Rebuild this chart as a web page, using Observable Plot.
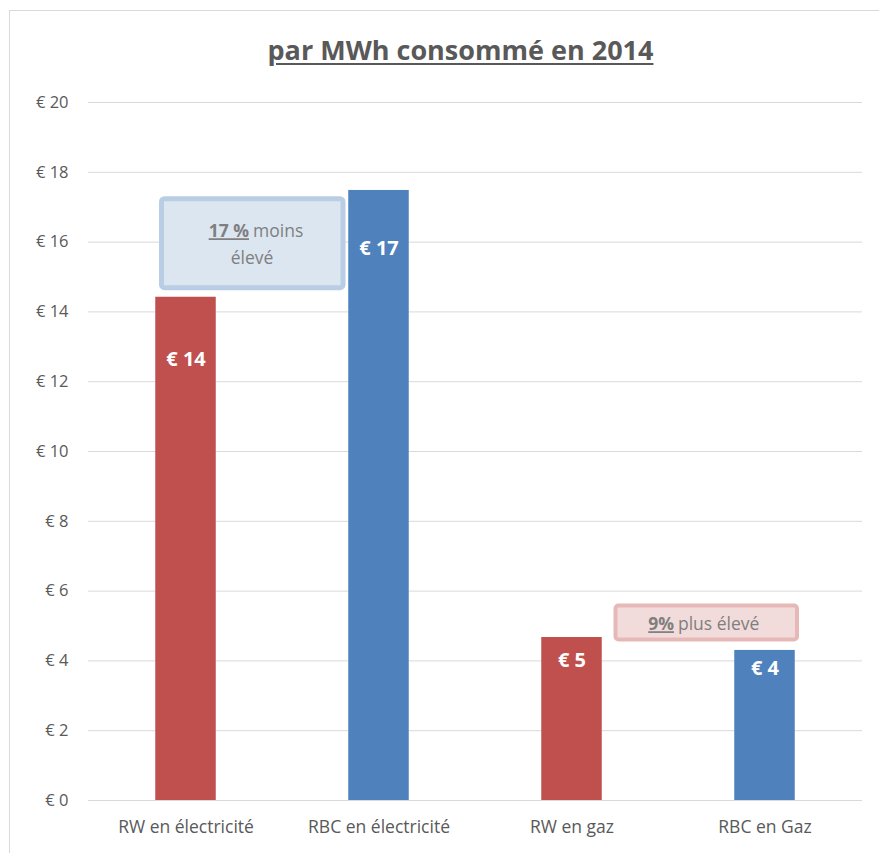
<!DOCTYPE html>
<html><head><meta charset="utf-8">
<script src="https://cdn.jsdelivr.net/npm/d3@7"></script>
<script src="https://cdn.jsdelivr.net/npm/@observablehq/plot@0.6"></script>
<style>
html,body{margin:0;padding:0;background:#fff;overflow:hidden}
body{width:879px;height:853px;position:relative;font-family:"Open Sans",sans-serif}
#frame{position:absolute;left:9px;top:10px;width:900px;height:900px;border:1px solid #d9d9d9;box-sizing:border-box}
#title{position:absolute;left:0;top:0;width:879px;height:80px;text-align:center;}
#title span{display:inline-block;margin-top:31px;margin-left:42px;font-size:27px;font-weight:700;color:#595959;text-decoration:underline;text-underline-offset:3px;letter-spacing:0px}
#chart{position:absolute;left:0;top:80px}
</style></head>
<body>
<div id="frame"></div>
<div id="title"><span>par MWh consommé en 2014</span></div>
<div id="chart"></div>
<script>
// ---- data ----
const categories = ["RW en électricité", "RBC en électricité", "RW en gaz", "RBC en Gaz"];
const values = [14.42, 17.48, 4.67, 4.30];
const regions = ["RW", "RBC", "RW", "RBC"];
const yTicks = [0, 2, 4, 6, 8, 10, 12, 14, 16, 18, 20];
const noteBold = ["17 %", "9%"];
const noteRest = ["moins", "plus élevé"];
const noteLine2 = ["élevé", ""];
const noteAnchor = ["RW en électricité", "RW en gaz"];

// ---- layout (placement of labels / callouts) ----
const labelDrop = [1.8, 1.66, 0.66, 0.52];
const boxLayout = [
  {y1: 14.68, y2: 17.23, insetLeft: 72.5, insetRight: -61, fill: "#dce6f1", stroke: "#b9cde5", sw: 5, dx: 66, ty1: 16.30, ty2: 15.53},
  {y1: 4.60, y2: 5.57, insetLeft: 140.5, insetRight: -129, fill: "#f2dcdb", stroke: "#e6b9b8", sw: 4, dx: 105, ty1: 5.04, ty2: null}
];

const bars = categories.map((c, i) => ({cat: c, value: values[i], region: regions[i], labelY: values[i] - labelDrop[i]}));
const notes = noteBold.map((b, i) => ({cat: noteAnchor[i], bold: b, rest: noteRest[i], line2: noteLine2[i], ...boxLayout[i]}));

const colors = {RW: "#c0504d", RBC: "#4f81bd"};
const gray = "#595959";
const noteGray = "#7f7f7f";

const marks = [
  Plot.ruleY(yTicks, {stroke: "#d9d9d9", strokeWidth: 1}),
  Plot.barY(bars, {x: "cat", y: "value", fill: d => colors[d.region], insetLeft: 66.25, insetRight: 66.25}),
  Plot.text(bars, {x: "cat", y: "labelY", text: d => "€ " + Math.round(d.value), fill: "white", fontWeight: "bold", fontSize: 20})
];
notes.forEach(n => {
  marks.push(Plot.barY([n], {x: "cat", y1: "y1", y2: "y2", fill: n.fill, stroke: n.stroke, strokeWidth: n.sw, insetLeft: n.insetLeft, insetRight: n.insetRight, rx: 3}));
  marks.push(Plot.text([n], {x: "cat", y: "ty1", text: "bold", dx: n.dx - 3, textAnchor: "end", fontWeight: "bold", fill: noteGray, fontSize: 17.5}));
  marks.push(Plot.text([n], {x: "cat", y: "ty1", text: "rest", dx: n.dx + 1, textAnchor: "start", fill: noteGray, fontSize: 17.5}));
  if (n.line2) marks.push(Plot.text([n], {x: "cat", y: "ty2", text: "line2", dx: n.dx, fill: noteGray, fontSize: 17.5}));
});
marks.push(Plot.axisY({ticks: yTicks, tickFormat: d => "€ " + d, tickSize: 0, tickPadding: 20, fontSize: 16.5, color: gray, label: null}));
marks.push(Plot.axisX({tickSize: 0, tickPadding: 20, fontSize: 17.5, color: gray, label: null}));

const plot = Plot.plot({
  width: 879,
  height: 773,
  marginLeft: 88,
  marginRight: 17,
  marginTop: 22,
  marginBottom: 53,
  style: {fontFamily: "'Open Sans', sans-serif", color: gray, background: "transparent", overflow: "visible"},
  x: {domain: categories, padding: 0, label: null},
  y: {domain: [0, 20], label: null},
  marks
});
document.getElementById("chart").appendChild(plot);
d3.select(plot).selectAll("text").filter(function () { return noteBold.includes(this.textContent); })
  .attr("text-decoration", "underline").style("text-decoration", "underline");
d3.select(plot).selectAll("g[aria-label$='tick label'] text").attr("fill", gray);
</script>
</body></html>
